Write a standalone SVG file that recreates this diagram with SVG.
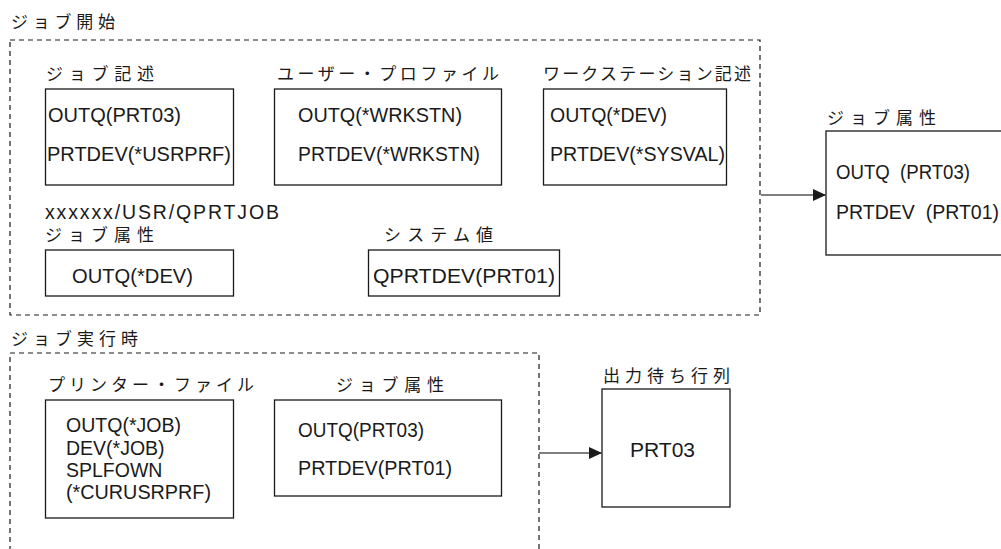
<svg xmlns="http://www.w3.org/2000/svg" width="1001" height="549" viewBox="0 0 1001 549">
<style>
text{font-family:"Liberation Sans",Arial,"Noto Sans CJK JP",sans-serif;font-size:19.5px;fill:#1a1a1a}
.jp{font-family:"Noto Sans CJK JP","Liberation Sans",sans-serif;font-size:17px}
.box{fill:#fff;stroke:#1a1a1a;stroke-width:1.3}
.dash{fill:none;stroke:#1a1a1a;stroke-width:1.2;stroke-dasharray:5,4}
.conn{stroke:#555;stroke-width:1.5;fill:none}
</style>
<defs>
<marker id="ah" markerWidth="13" markerHeight="12" refX="13" refY="6" orient="auto" markerUnits="userSpaceOnUse">
<path d="M0,0 L13,6 L0,12 Z" fill="#1a1a1a"/>
</marker>
</defs>
<g id="start-group">
<text class="jp" x="11" y="28" textLength="104" lengthAdjust="spacing">ジョブ開始</text>
<rect class="dash" x="10" y="40" width="750" height="275"/>
</g>
<g id="run-group">
<text class="jp" x="11" y="345" textLength="127" lengthAdjust="spacing">ジョブ実行時</text>
<path class="dash" d="M10,560 L10,353 L539,353 L539,560"/>
</g>
<g id="jobd">
<text class="jp" x="46" y="80" textLength="108" lengthAdjust="spacing">ジョブ記述</text>
<rect class="box" x="45.5" y="89" width="188" height="96"/>
<text x="48" y="122" textLength="133" lengthAdjust="spacingAndGlyphs">OUTQ(PRT03)</text>
<text x="47" y="161" textLength="184" lengthAdjust="spacingAndGlyphs">PRTDEV(*USRPRF)</text>
</g>
<g id="usrprf">
<text class="jp" x="277" y="80" textLength="222" lengthAdjust="spacing">ユーザー・プロファイル</text>
<rect class="box" x="274.5" y="89" width="227" height="96"/>
<text x="298" y="122" textLength="164" lengthAdjust="spacingAndGlyphs">OUTQ(*WRKSTN)</text>
<text x="298" y="161" textLength="182" lengthAdjust="spacingAndGlyphs">PRTDEV(*WRKSTN)</text>
</g>
<g id="wsd">
<text class="jp" x="543" y="80" textLength="208" lengthAdjust="spacing">ワークステーション記述</text>
<rect class="box" x="543.5" y="89" width="183" height="96"/>
<text x="550" y="122" textLength="117" lengthAdjust="spacingAndGlyphs">OUTQ(*DEV)</text>
<text x="550" y="161" textLength="175" lengthAdjust="spacingAndGlyphs">PRTDEV(*SYSVAL)</text>
</g>
<g id="qprtjob">
<text x="45" y="219" textLength="234" lengthAdjust="spacing">xxxxxx/USR/QPRTJOB</text>
<text class="jp" x="45" y="241" textLength="109" lengthAdjust="spacing">ジョブ属性</text>
<rect class="box" x="45.5" y="250" width="188" height="46"/>
<text x="72" y="283" textLength="121" lengthAdjust="spacingAndGlyphs">OUTQ(*DEV)</text>
</g>
<g id="sysval">
<text class="jp" x="384" y="241" textLength="109" lengthAdjust="spacing">システム値</text>
<rect class="box" x="368.5" y="250" width="191" height="46"/>
<text x="373" y="283" textLength="182" lengthAdjust="spacingAndGlyphs">QPRTDEV(PRT01)</text>
</g>
<g id="jobattr1">
<text class="jp" x="827" y="124" textLength="109" lengthAdjust="spacing">ジョブ属性</text>
<rect class="box" x="826" y="131" width="190" height="124"/>
<text x="836" y="179" xml:space="preserve" textLength="134" lengthAdjust="spacingAndGlyphs">OUTQ  (PRT03)</text>
<text x="836" y="219" xml:space="preserve" textLength="163" lengthAdjust="spacingAndGlyphs">PRTDEV  (PRT01)</text>
</g>
<g id="prtf">
<text class="jp" x="48" y="391" textLength="206" lengthAdjust="spacing">プリンター・ファイル</text>
<rect class="box" x="45.5" y="400" width="188" height="118"/>
<text x="66" y="432" textLength="115" lengthAdjust="spacingAndGlyphs">OUTQ(*JOB)</text>
<text x="66" y="455">DEV(*JOB)</text>
<text x="66" y="477">SPLFOWN</text>
<text x="66" y="499" textLength="145" lengthAdjust="spacingAndGlyphs">(*CURUSRPRF)</text>
</g>
<g id="jobattr2">
<text class="jp" x="336" y="391" textLength="108" lengthAdjust="spacing">ジョブ属性</text>
<rect class="box" x="274.5" y="400" width="227" height="96"/>
<text x="298" y="437" textLength="126" lengthAdjust="spacingAndGlyphs">OUTQ(PRT03)</text>
<text x="298" y="475" textLength="154" lengthAdjust="spacingAndGlyphs">PRTDEV(PRT01)</text>
</g>
<g id="outq">
<text class="jp" x="603" y="382" textLength="127" lengthAdjust="spacing">出力待ち行列</text>
<rect class="box" x="602" y="389" width="128" height="118"/>
<text x="630" y="457" textLength="65" lengthAdjust="spacingAndGlyphs">PRT03</text>
</g>
<g id="connectors">
<line class="conn" x1="761" y1="195" x2="826" y2="195" marker-end="url(#ah)"/>
<line class="conn" x1="539" y1="453" x2="602" y2="453" marker-end="url(#ah)"/>
</g>
</svg>
